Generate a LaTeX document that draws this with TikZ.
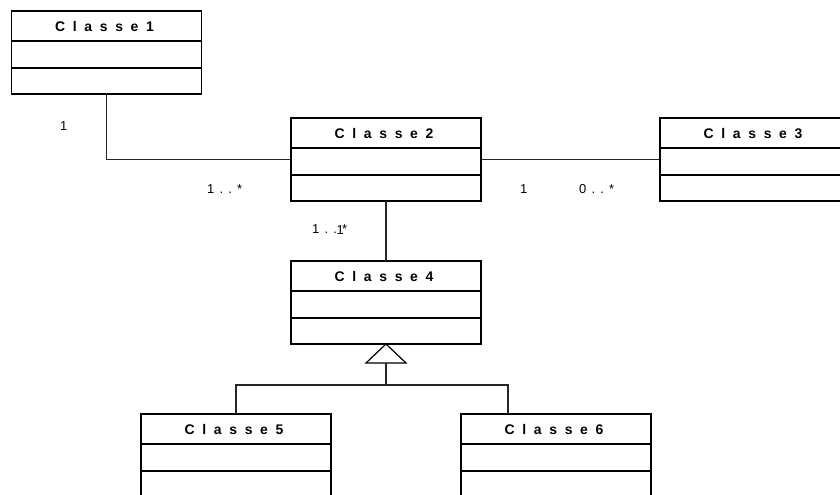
\documentclass[tikz,border=0pt]{standalone}
\usepackage{fontspec}
\setmainfont{Liberation Sans}
\newfontfamily\hdrfont{Liberation Sans}[LetterSpace=55]
\newfontfamily\lblfont{Liberation Sans}[LetterSpace=40]
\usetikzlibrary{calc}
\tikzset{
  classbox/.style={draw=black, line width=1.6bp, minimum width=190bp, minimum height=83bp, inner sep=0pt, outer sep=0pt, fill=white},
  divider/.style={draw=black, line width=1.5bp},
  hdr/.style={font=\hdrfont\bfseries\fontsize{14}{14}\selectfont, inner sep=0pt},
  conn/.style={draw=black!85, line width=1.1bp},
  mult/.style={font=\lblfont\fontsize{13}{13}\selectfont, inner sep=0pt, anchor=base west},
}
\newcommand\umlbox[4]{%
  \node[classbox, anchor=north west] (#1) at (#2,#3) {};
  \node[hdr] (#1-t) at ($(#1.north)+(-2,15.5)$) {#4};
  \draw[divider] ($(#1.north west)+(0,30)$) -- ($(#1.north east)+(0,30)$);
  \draw[divider] ($(#1.north west)+(0,57)$) -- ($(#1.north east)+(0,57)$);
}
\begin{document}
\begin{tikzpicture}[x=1bp, y=-1bp]
\useasboundingbox (0,0) rectangle (840,495);
\clip (0,0) rectangle (840,495);
\fill[white] (0,0) rectangle (840,495);
\umlbox{c1}{11.5}{11}{Classe1}
\umlbox{c2}{291}{118}{Classe2}
\umlbox{c3}{660}{118}{Classe3}
\umlbox{c4}{291}{261}{Classe4}
\umlbox{c5}{141}{414}{Classe5}
\umlbox{c6}{461}{414}{Classe6}
% associations
\draw[conn] (c1.south) |- (c2.west);
\draw[conn] (c2.east) -- (c3.west);
\draw[conn] (c2.south) -- (c2.south |- c4.north);
% generalization
\coordinate (tb) at ($(c4.south)+(0,19)$);
\coordinate (j) at ($(c4.south)+(0,41)$);
\coordinate (c6a) at ($(c6.north west)+(47,0)$);
\draw[black, line width=1.2bp, fill=white] (c4.south) -- ($(tb)+(-20,0)$) -- ($(tb)+(20,0)$) -- cycle;
\draw[conn] (tb) -- (j);
\draw[conn] (c5.north) |- (j) -| (c6a);
% multiplicities
\node[mult] (m1) at (60,131) {1};
\node[mult] (m2) at (207,194) {1..*};
\node[mult] (m3) at (312,234) {1..*};
\node[mult] (m3b) at (336.5,235) {1};
\node[mult] (m4) at (520,194) {1};
\node[mult] (m5) at (579,194) {0..*};
\end{tikzpicture}
\end{document}
